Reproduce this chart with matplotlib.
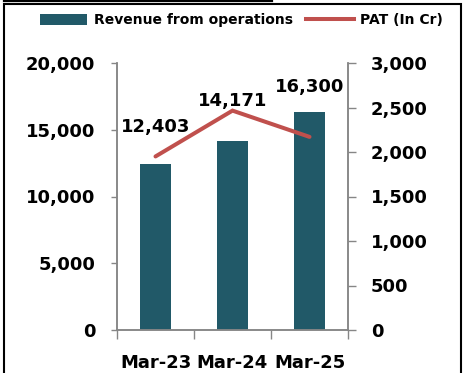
import matplotlib
matplotlib.use("Agg")
import matplotlib.pyplot as plt
from matplotlib.lines import Line2D
from matplotlib.patches import Patch, Rectangle

categories = ["Mar-23", "Mar-24", "Mar-25"]
revenue = [12403, 14171, 16300]
pat = [1950, 2465, 2170]
revenue_labels = ["12,403", "14,171", "16,300"]
left_ticks = [0, 5000, 10000, 15000, 20000]
left_tick_labels = ["0", "5,000", "10,000", "15,000", "20,000"]
right_ticks = [0, 500, 1000, 1500, 2000, 2500, 3000]
right_tick_labels = ["0", "500", "1,000", "1,500", "2,000", "2,500", "3,000"]

BAR = "#215968"
RED = "#C0504D"
GRAY = "#868686"
FONT = "DejaVu Sans"
FS = 13

plt.rcParams['font.family'] = [FONT]

fig = plt.figure(figsize=(4.67, 3.73), dpi=100)
ax = fig.add_axes([117/467, 43/373, 231/467, 267/373])
ax2 = ax.twinx()

x = list(range(len(categories)))
ax.bar(x, revenue, width=0.39, color=BAR, zorder=2)
ax2.plot(x, pat, color=RED, lw=2.9, solid_capstyle='round', solid_joinstyle='miter', zorder=3)

ax.set_xlim(-0.5, len(categories) - 0.5)
ax.set_ylim(0, 20000)
ax2.set_ylim(0, 3000)

ax.set_yticks(left_ticks)
ax.set_yticklabels(left_tick_labels, fontsize=FS, fontweight='bold')
ax2.set_yticks(right_ticks)
ax2.set_yticklabels(right_tick_labels, fontsize=FS, fontweight='bold')

ax.set_xticks(x)
ax.set_xticklabels(categories, fontsize=FS, fontweight='bold')
ax.set_xticks([i - 0.5 for i in range(len(categories) + 1)], minor=True)
ax.tick_params(axis='x', which='major', length=0, pad=17)
ax.tick_params(axis='x', which='minor', length=6.5, width=1, color=GRAY)
ax.tick_params(axis='y', length=4.5, width=1, color=GRAY, pad=11)
ax2.tick_params(axis='y', length=5.5, width=1, color=GRAY, pad=11)

for a in (ax, ax2):
    a.spines["top"].set_visible(False)
    for s in ("left", "right", "bottom"):
        a.spines[s].set_color(GRAY)
        a.spines[s].set_linewidth(1.1)

label_offsets_pt = [27, 29, 18]
for i, (v, lab) in enumerate(zip(revenue, revenue_labels)):
    ax.annotate(lab, (i, v), xytext=(0, label_offsets_pt[i]), textcoords='offset points',
                ha='center', va='center', fontsize=FS, fontweight='bold', zorder=5)

handles = [Patch(facecolor=BAR, edgecolor='none'),
           Line2D([0], [0], color=RED, lw=2.9)]
fig.legend(handles, ["Revenue from operations", "PAT (In Cr)"],
           loc='center', bbox_to_anchor=(0.517, 0.946), ncol=2, frameon=False,
           prop={'family': FONT, 'weight': 'bold', 'size': 10},
           handlelength=3.4, handleheight=0.85, handletextpad=0.45,
           columnspacing=1.0, borderpad=0.2)

# outer frame
fig.patches.append(Rectangle((3.5/467, -0.05), 457/467, 1.05 - 4/373, transform=fig.transFigure,
                             fill=False, edgecolor='black', lw=1.5))
fig.lines.append(Line2D([4/467, 272/467], [1 - 1/373, 1 - 1/373], transform=fig.transFigure,
                        color='black', lw=1.6))

fig.savefig("out.png", dpi=100)
